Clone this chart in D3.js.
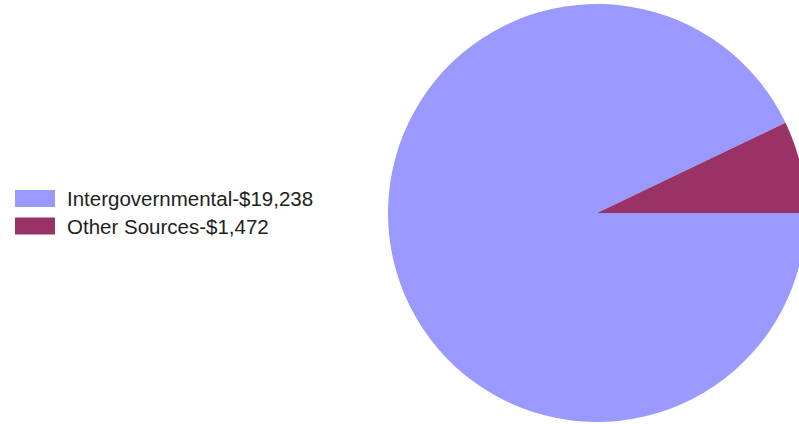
<!DOCTYPE html>
<html><head><meta charset="utf-8">
<script src="https://cdn.jsdelivr.net/npm/d3@7"></script>
<style>html,body{margin:0;padding:0;background:#fff;overflow:hidden}</style>
</head><body>
<svg id="c" width="799" height="424"></svg>
<script>
const categories = ["Intergovernmental", "Other Sources"];
const values = [19238, 1472];
const colors = ["#9999FF", "#993366"];

const svg = d3.select("#c");
const cx = 597, cy = 213, r = 209;
const data = categories.map((c, i) => ({name: c, value: values[i], color: colors[i]}));

const total = d3.sum(values);
const angle = d3.scaleLinear().domain([0, total]).range([0, 2 * Math.PI]);
const start = Math.PI / 2;
const arc = d3.arc().innerRadius(0).outerRadius(r);
const g = svg.append("g").attr("transform", `translate(${cx},${cy})`);
const otherA = angle(values[1]);
const slices = [
  {d: data[0], s: start, e: start + angle(values[0])},
  {d: data[1], s: start - otherA, e: start}
];
g.selectAll("path").data(slices).join("path")
  .attr("d", s => arc({startAngle: s.s, endAngle: s.e}))
  .attr("fill", s => s.d.color);

const fmt = d3.format(",");
const lg = svg.append("g");
const items = lg.selectAll("g").data(data).join("g")
  .attr("transform", (d, i) => `translate(15,${190 + i * 27.5})`);
items.append("rect").attr("width", 40).attr("height", 17).attr("fill", d => d.color);
items.append("text").attr("x", 52).attr("y", 16)
  .attr("font-family", "Liberation Sans, Arial, sans-serif")
  .attr("font-size", 20.5).attr("fill", "#222")
  .text(d => `${d.name}-$${fmt(d.value)}`);
</script>
</body></html>
